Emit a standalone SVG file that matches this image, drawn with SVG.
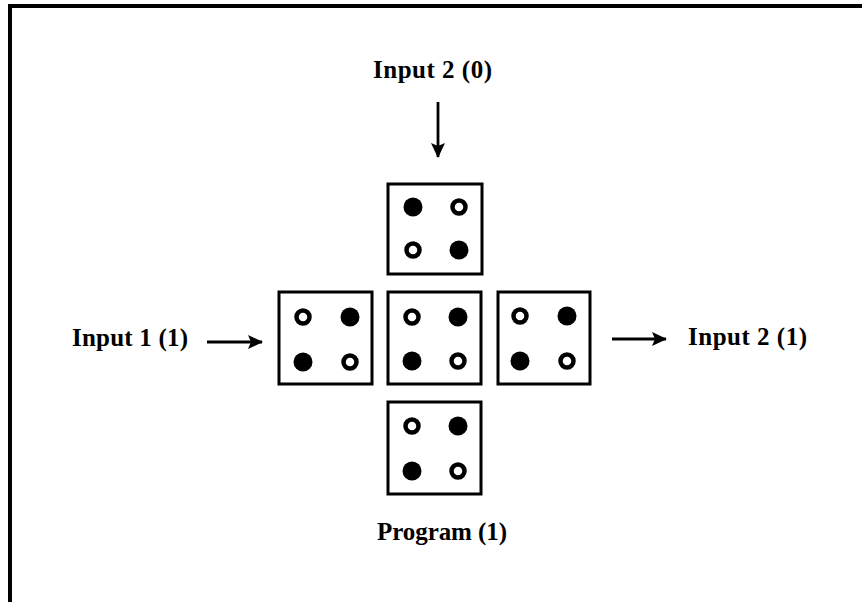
<svg xmlns="http://www.w3.org/2000/svg" width="862" height="602" viewBox="0 0 862 602">
  <style>
    .frame { fill: none; stroke: #000; stroke-width: 4; }
    .cell { fill: #fff; stroke: #000; stroke-width: 3; }
    .on { fill: #000; }
    .off { fill: #fff; stroke: #000; stroke-width: 4.5; }
    .lbl { font-family: "Liberation Serif", "Times New Roman", serif; font-weight: bold; font-size: 25px; fill: #000; }
    .wire { stroke: #000; stroke-width: 2.8; fill: none; }
  </style>
  <defs>
    <marker id="head" markerWidth="15" markerHeight="14" refX="14" refY="7" orient="auto" markerUnits="userSpaceOnUse" viewBox="0 0 15 14">
      <path d="M0,0 L15,7 L0,14 L3,7 Z" fill="#000"/>
    </marker>
  </defs>
  <rect width="862" height="602" fill="#fff"/>
  <!-- outer frame: top and left edges -->
  <path class="frame" d="M10,602 V6 H862"/>

  <!-- connectors -->
  <g id="connectors">
    <line class="wire" x1="438" y1="102" x2="438" y2="157" marker-end="url(#head)"/>
    <line class="wire" x1="207" y1="342" x2="262" y2="342" marker-end="url(#head)"/>
    <line class="wire" x1="612" y1="339" x2="666" y2="339" marker-end="url(#head)"/>
  </g>

  <!-- top cell -->
  <g id="cell-top">
    <rect class="cell" x="388" y="184" width="94" height="90"/>
    <circle class="on" cx="413" cy="207" r="9.5"/>
    <circle class="off" cx="459" cy="207" r="6.5"/>
    <circle class="off" cx="413" cy="250" r="6.5"/>
    <circle class="on" cx="459" cy="250" r="9.5"/>
  </g>

  <!-- left cell -->
  <g id="cell-left">
    <rect class="cell" x="279" y="292" width="93" height="92"/>
    <circle class="off" cx="303" cy="317" r="6.5"/>
    <circle class="on" cx="350" cy="317" r="9.5"/>
    <circle class="on" cx="303" cy="362" r="9.5"/>
    <circle class="off" cx="350" cy="362" r="6.5"/>
  </g>

  <!-- centre cell -->
  <g id="cell-center">
    <rect class="cell" x="388" y="292" width="93" height="92"/>
    <circle class="off" cx="412" cy="317" r="6.5"/>
    <circle class="on" cx="458" cy="317" r="9.5"/>
    <circle class="on" cx="412" cy="361" r="9.5"/>
    <circle class="off" cx="458" cy="361" r="6.5"/>
  </g>

  <!-- right cell -->
  <g id="cell-right">
    <rect class="cell" x="498" y="292" width="92" height="92"/>
    <circle class="off" cx="520" cy="316" r="6.5"/>
    <circle class="on" cx="567" cy="316" r="9.5"/>
    <circle class="on" cx="520" cy="361" r="9.5"/>
    <circle class="off" cx="567" cy="361" r="6.5"/>
  </g>

  <!-- bottom cell -->
  <g id="cell-bottom">
    <rect class="cell" x="388" y="402" width="93" height="92"/>
    <circle class="off" cx="412" cy="426" r="6.5"/>
    <circle class="on" cx="458" cy="426" r="9.5"/>
    <circle class="on" cx="412" cy="471" r="9.5"/>
    <circle class="off" cx="458" cy="471" r="6.5"/>
  </g>

  <!-- labels -->
  <g id="label-in2-top"><text class="lbl" x="373" y="78" textLength="119">Input 2 (0)</text></g>
  <g id="label-in1"><text class="lbl" x="72" y="346" textLength="116">Input 1 (1)</text></g>
  <g id="label-in2-right"><text class="lbl" x="688" y="345" textLength="119">Input 2 (1)</text></g>
  <g id="label-program"><text class="lbl" x="377" y="540" textLength="130">Program (1)</text></g>
</svg>
